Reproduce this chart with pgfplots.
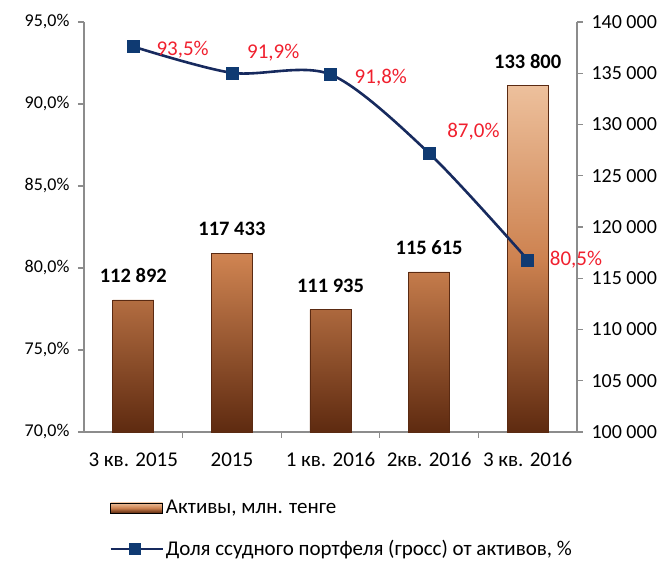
\documentclass[border=0pt]{standalone}
\usepackage{pgfplots}
\pgfplotsset{compat=1.18}
\usepackage{fontspec}
\setmainfont{Carlito}
\definecolor{axgray}{HTML}{8C8C8C}
\definecolor{navy}{HTML}{172A5E}
\definecolor{mk}{HTML}{0F3A72}
\definecolor{barTop}{HTML}{EDC09C}
\definecolor{barMid}{HTML}{CD8250}
\definecolor{barBot}{HTML}{5E2A10}
\definecolor{barEdge}{HTML}{5A2A12}
\definecolor{lblred}{HTML}{F0202E}
\begin{document}
\fontsize{19}{22}\selectfont
\begin{tikzpicture}
\begin{axis}[
  name=ax,
  scale only axis, width=493pt, height=410pt,
  xmin=-0.5, xmax=4.5,
  ymin=100000, ymax=140000,
  scaled y ticks=false,
  axis y line*=right, axis x line*=bottom,
  axis line style={axgray, line width=1.2pt},
  tick align=outside, major tick length=6pt,
  tick style={axgray, line width=1.2pt},
  ytick={100000,105000,110000,115000,120000,125000,130000,135000,140000},
  yticklabels={100 000,105 000,110 000,115 000,120 000,125 000,130 000,135 000,140 000},
  yticklabel style={xshift=2pt, font=\fontsize{20}{23}\selectfont},
  xtick={0.5,1.5,2.5,3.5}, xticklabels={},
  extra x ticks={0,1,2,3,4},
  extra x tick labels={3 кв. 2015,2015,1 кв. 2016,2кв. 2016,3 кв. 2016},
  extra x tick style={major tick length=0pt, tick label style={yshift=-14pt, font=\fontsize{21}{24}\selectfont}},
  /pgf/number format/assume math mode=true,
  clip=false,
]
\addplot[ybar, bar width=41pt, draw=barEdge, line width=0.6pt,
  top color=barTop, bottom color=barBot, middle color=barMid,
  point meta=explicit symbolic,
  nodes near coords,
  nodes near coords style={font=\fontsize{20.5}{24}\selectfont\bfseries, black, anchor=south, inner sep=0pt, yshift=17pt},
] table[x=x, y=y, meta=lab, col sep=comma] {
x,y,lab
0,112892,112 892
1,117433,117 433
2,111935,111 935
3,115615,115 615
4,133800,133 800
};
\end{axis}
\begin{axis}[
  scale only axis, width=493pt, height=410pt,
  xmin=-0.5, xmax=4.5,
  ymin=70, ymax=95,
  axis y line*=left, axis x line=none,
  axis line style={axgray, line width=1.2pt},
  tick align=outside, major tick length=6pt,
  tick style={axgray, line width=1.2pt},
  ytick={70,75,80,85,90,95},
  yticklabels={70{,}0\%,75{,}0\%,80{,}0\%,85{,}0\%,90{,}0\%,95{,}0\%},
  yticklabel style={xshift=-2pt, font=\fontsize{18}{21}\selectfont},
  /pgf/number format/assume math mode=true,
  clip=false,
  legend style={at={(0.045,-0.155)}, anchor=north west, draw=none, fill=none,
    row sep=20pt, font=\fontsize{21}{24}\selectfont},
  legend cell align=left,
]
\addlegendimage{legend image code/.code={\path[top color=barTop, bottom color=barBot, middle color=barMid] (0pt,-5pt) rectangle (52pt,5pt);}}
\addlegendentry{Активы, млн. тенге}
\addplot[navy, line width=2.6pt, smooth, mark=square*,
  mark options={fill=mk, draw=mk, line width=0.5pt}, mark size=6pt,
  legend image code/.code={\draw[navy, line width=2.6pt] (0pt,0pt) -- (52pt,0pt); \fill[mk] (20pt,-4.5pt) rectangle (29pt,4.5pt);},
  nodes near coords, point meta=explicit symbolic,
  visualization depends on={\thisrow{dx} \as \dx},
  visualization depends on={\thisrow{dy} \as \dy},
  nodes near coords style={lblred, font=\fontsize{21}{24}\selectfont, anchor=west, inner sep=0pt, xshift=\dx pt, yshift=\dy pt},
] table[x=x, y=y, meta=lab] {
x y lab dx dy
0 93.5 93{,}5\% 23 -3
1 91.9 91{,}9\% 15 20
2 91.8 91{,}8\% 24 -3
3 87.0 87{,}0\% 18 22
4 80.5 80{,}5\% 22 0
};
\addlegendentry{Доля ссудного портфеля (гросс) от активов, \%}
\end{axis}
\path ([shift={(-84pt,-130pt)}]ax.south west) rectangle ([shift={(581pt,432pt)}]ax.south west);
\end{tikzpicture}
\end{document}
